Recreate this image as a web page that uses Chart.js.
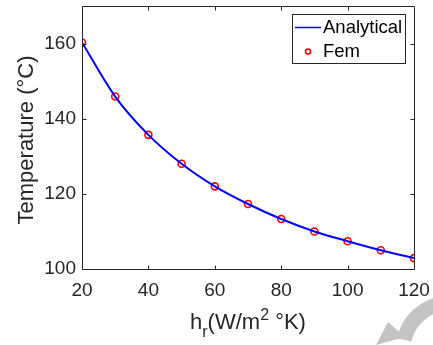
<!DOCTYPE html>
<html><head><meta charset="utf-8">
<script src="https://cdn.jsdelivr.net/npm/chart.js@4/dist/chart.umd.min.js"></script>
<style>html,body{margin:0;padding:0;background:#fff;}canvas{display:block;}</style>
</head><body>
<canvas id="c" width="433" height="345"></canvas>
<script>
const hr = [20, 30, 40, 50, 60, 70, 80, 90, 100, 110, 120];
const analytical = [160.3, 145.9, 135.7, 128.0, 122.0, 117.3, 113.3, 110.0, 107.4, 105.0, 102.9];
const fem = [160.3, 145.9, 135.7, 128.0, 122.0, 117.3, 113.3, 110.0, 107.4, 105.0, 102.9];
const xTicks = [20, 40, 60, 80, 100, 120];
const yTicks = [100, 120, 140, 160];
const seriesNames = ['Analytical', 'Fem'];
const yTitle = 'Temperature (\u00B0C)';
const AX = '#262626';
const FONT = '"Liberation Sans", Arial, sans-serif';

const boxPlugin = {
  id: 'box',
  afterDraw(chart) {
    const ctx = chart.ctx, a = chart.chartArea, sx = chart.scales.x, sy = chart.scales.y;
    ctx.save();
    ctx.strokeStyle = AX; ctx.lineWidth = 1;
    const L = Math.round(a.left) + 0.5, R = Math.round(a.right) + 0.5, T = Math.round(a.top) + 0.5, B = Math.round(a.bottom) + 0.5;
    ctx.beginPath();
    ctx.moveTo(L, T); ctx.lineTo(R, T); ctx.lineTo(R, B); ctx.lineTo(L, B); ctx.closePath();
    const tl = 4;
    xTicks.forEach(v => {
      const p = Math.round(sx.getPixelForValue(v)) + 0.5;
      ctx.moveTo(p, B); ctx.lineTo(p, B - tl);
      ctx.moveTo(p, T); ctx.lineTo(p, T + tl);
    });
    yTicks.forEach(v => {
      const p = Math.round(sy.getPixelForValue(v)) + 0.5;
      ctx.moveTo(L, p); ctx.lineTo(L + tl, p);
      ctx.moveTo(R, p); ctx.lineTo(R - tl, p);
    });
    ctx.stroke();

    // legend
    const lx = 292.5, ly = 14.5, lw = 113, lh = 49;
    ctx.fillStyle = '#fff';
    ctx.fillRect(lx, ly, lw, lh);
    ctx.strokeStyle = AX; ctx.lineWidth = 1;
    ctx.strokeRect(lx, ly, lw, lh);
    ctx.strokeStyle = '#0000ff'; ctx.lineWidth = 1.5;
    ctx.beginPath(); ctx.moveTo(295, 27.5); ctx.lineTo(321, 27.5); ctx.stroke();
    ctx.strokeStyle = '#ff0000'; ctx.lineWidth = 1.6;
    ctx.beginPath(); ctx.arc(308, 51.5, 2.5, 0, Math.PI * 2); ctx.stroke();
    ctx.fillStyle = '#000';
    ctx.font = '18.5px ' + FONT;
    ctx.textBaseline = 'middle'; ctx.textAlign = 'left';
    ctx.fillText(seriesNames[0], 323, 28);
    ctx.fillText(seriesNames[1], 323, 52);

    // y axis title
    ctx.save();
    ctx.translate(27, 140);
    ctx.rotate(-Math.PI / 2);
    ctx.font = '22px ' + FONT;
    ctx.fillStyle = AX;
    ctx.textAlign = 'center'; ctx.textBaseline = 'middle';
    ctx.fillText(yTitle, 0, 0);
    ctx.restore();

    // x axis title with sub/superscript
    const cx = (a.left + a.right) / 2;
    ctx.fillStyle = AX;
    ctx.textAlign = 'left';
    ctx.textBaseline = 'alphabetic';
    const big = '22px ' + FONT, small = '16px ' + FONT;
    const parts = [['h', big, 0], ['r', small, 8], ['(W/m', big, 0], ['2', small, -9], [' \u00B0K)', big, 0]];
    let total = 0;
    parts.forEach(p => { ctx.font = p[1]; total += ctx.measureText(p[0]).width; });
    let x = cx - total / 2;
    const base = 329;
    parts.forEach(p => { ctx.font = p[1]; ctx.fillText(p[0], x, base + p[2]); x += ctx.measureText(p[0]).width; });

    // watermark arrow
    ctx.fillStyle = '#c4c4c4';
    ctx.beginPath();
    ctx.moveTo(376, 345); ctx.lineTo(388, 322); ctx.lineTo(405, 337);
    ctx.closePath(); ctx.fill();
    ctx.lineWidth = 15; ctx.strokeStyle = '#c4c4c4';
    ctx.beginPath(); ctx.arc(450, 350, 47, Math.PI * 1.07, Math.PI * 1.45); ctx.stroke();
    ctx.restore();
  }
};

new Chart(document.getElementById('c'), {
  type: 'line',
  data: {
    datasets: [
      { label: seriesNames[0], data: hr.map((x, i) => ({ x, y: analytical[i] })), borderColor: '#0000ff', borderWidth: 2, pointRadius: 0, cubicInterpolationMode: 'monotone', fill: false },
      { label: seriesNames[1], data: hr.map((x, i) => ({ x, y: fem[i] })), showLine: false, borderColor: '#ff0000', backgroundColor: 'rgba(0,0,0,0)', pointRadius: 3.5, pointBorderWidth: 1.6 }
    ]
  },
  options: {
    responsive: false, animation: false,
    layout: { padding: { top: 6, right: 19, left: 0, bottom: 0 } },
    plugins: { legend: { display: false }, tooltip: { enabled: false } },
    scales: {
      x: {
        type: 'linear', min: 20, max: 120,
        afterBuildTicks: s => { s.ticks = xTicks.map(v => ({ value: v })); },
        afterFit: s => { s.height = 76; s.paddingLeft = 0; s.paddingRight = 0; },
        grid: { display: false, drawTicks: false },
        border: { display: false },
        ticks: { color: AX, font: { size: 19, family: FONT }, padding: 10, maxRotation: 0 }
      },
      y: {
        type: 'linear', min: 100, max: 170,
        afterBuildTicks: s => { s.ticks = yTicks.map(v => ({ value: v })); },
        afterFit: s => { s.width = 82; s.paddingTop = 0; s.paddingBottom = 0; },
        grid: { display: false, drawTicks: false },
        border: { display: false },
        ticks: { color: AX, font: { size: 19, family: FONT }, padding: 6 }
      }
    }
  },
  plugins: [boxPlugin]
});
</script>
</body></html>
